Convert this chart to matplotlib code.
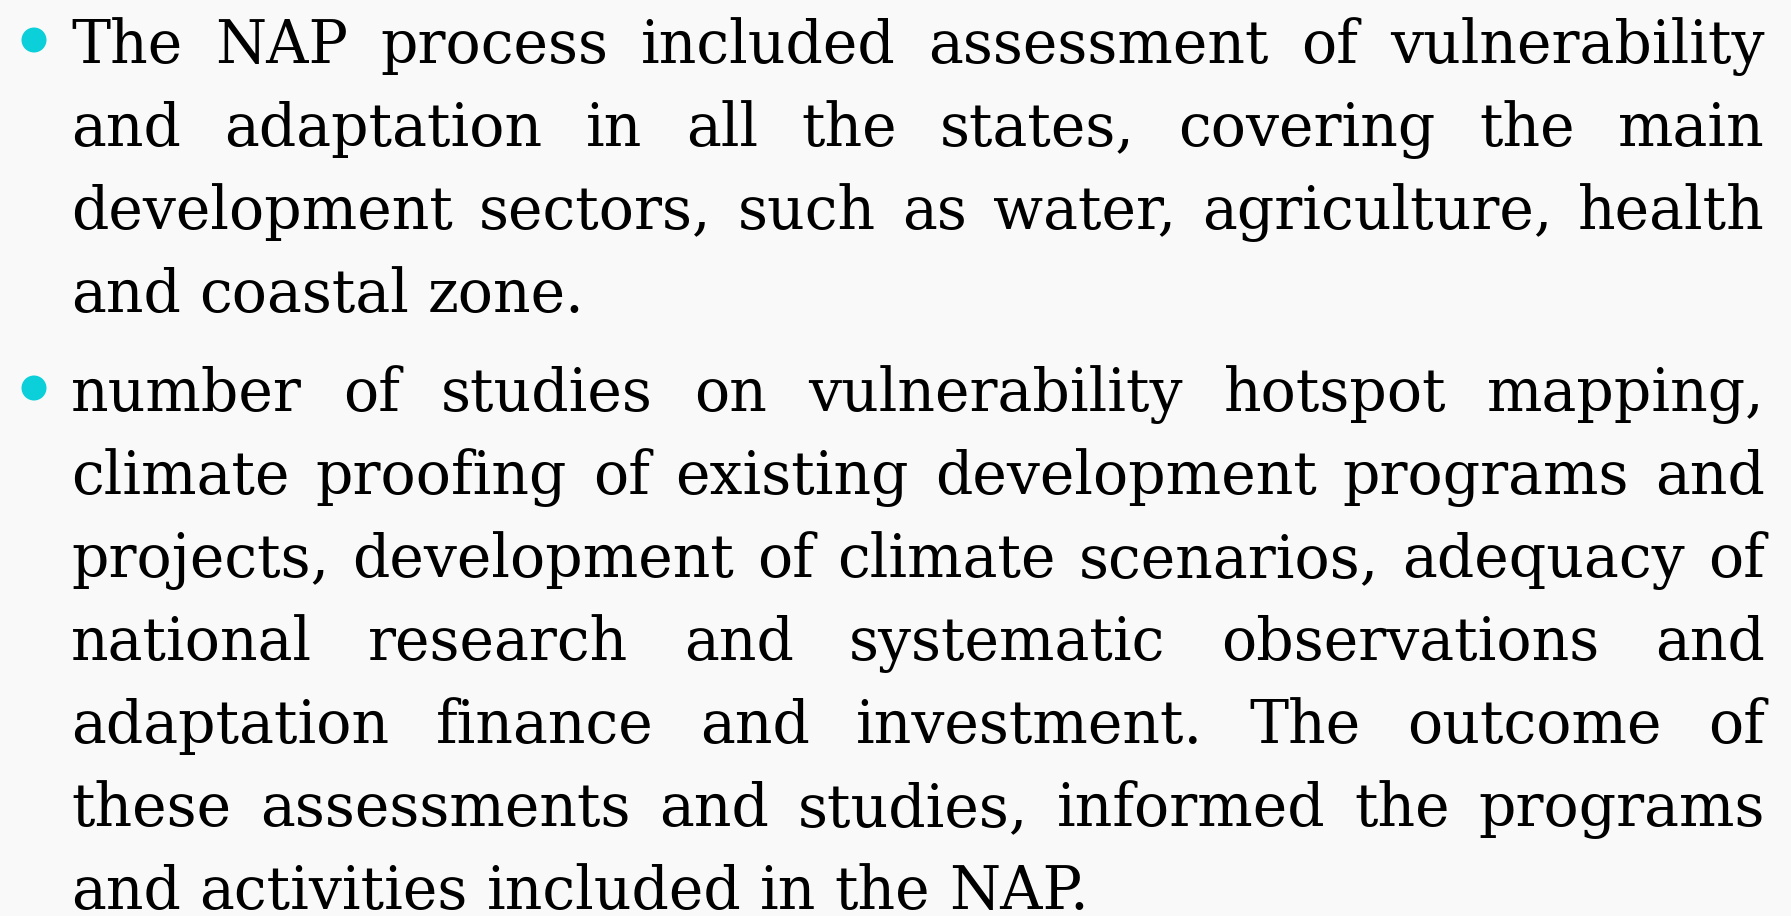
import matplotlib
matplotlib.use("Agg")
import matplotlib.pyplot as plt
from matplotlib.patches import Circle

# slide text, one list per bullet, one string per printed line
para1 = [
    "The NAP process included assessment of vulnerability",
    "and adaptation in all the states, covering the main",
    "development sectors, such as water, agriculture, health",
    "and coastal zone.",
]
para2 = [
    "number of studies on vulnerability hotspot mapping,",
    "climate proofing of existing development programs and",
    "projects, development of climate scenarios, adequacy of",
    "national research and systematic observations and",
    "adaptation finance and investment. The outcome of",
    "these assessments and studies, informed the programs",
    "and activities included in the NAP.",
]
paragraphs = [para1, para2]

W, H = 1791, 916
LEFT, RIGHT = 71, 1765
FIRST_BASE = 63
LINE_GAP = 83
PARA_GAP = 99
FONT = "DejaVu Serif"
BULLET_COLOR = "#0bd0da"

fig = plt.figure(figsize=(W / 100, H / 100), dpi=100)
fig.patch.set_facecolor("#f9f9f9")
ax = fig.add_axes([0, 0, 1, 1])
ax.set_xlim(0, W)
ax.set_ylim(H, 0)
ax.axis("off")
renderer = fig.canvas.get_renderer()


def text_width(s, size):
    t = ax.text(0, 0, s, fontsize=size, family=FONT)
    w = t.get_window_extent(renderer).width
    t.remove()
    return w


# size the font so the last (unjustified) line has the same width as the slide
size = 50 * 1020 / text_width(para2[-1], 50)
space = text_width("a a", size) - text_width("aa", size)

base = FIRST_BASE
for p in paragraphs:
    ax.add_patch(Circle((34, base - 23), 12.5, color=BULLET_COLOR, lw=0))
    for i, line in enumerate(p):
        words = line.split()
        widths = [text_width(w, size) for w in words]
        if i == len(p) - 1:
            gap = space
        else:
            gap = (RIGHT - LEFT - sum(widths)) / (len(words) - 1)
        x = LEFT
        for w, wd in zip(words, widths):
            ax.text(x, base, w, fontsize=size, family=FONT, color="black",
                    ha="left", va="baseline")
            x += wd + gap
        base += LINE_GAP
    base += PARA_GAP - LINE_GAP

fig.savefig("out.png", dpi=100, facecolor=fig.get_facecolor())
